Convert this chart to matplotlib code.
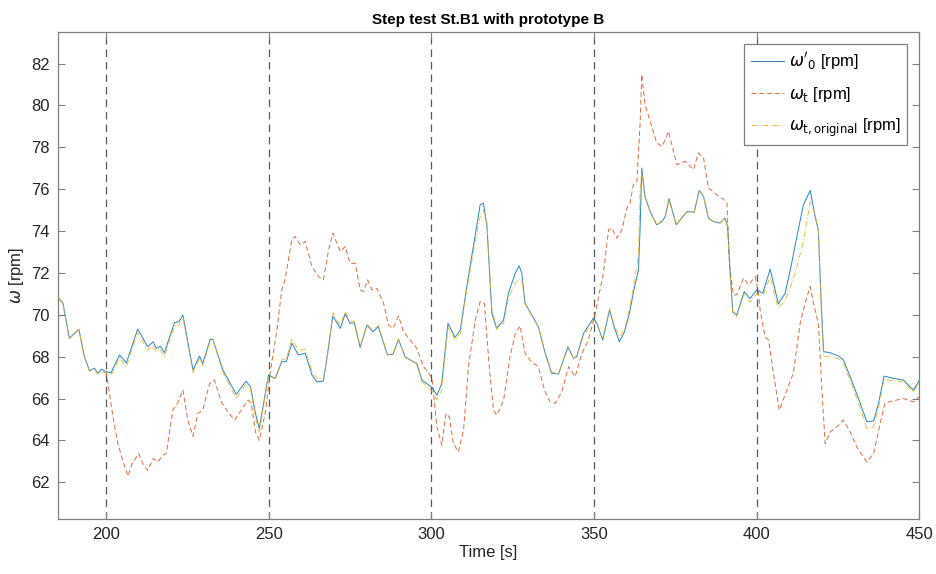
import numpy as np
import matplotlib
matplotlib.use("Agg")
import matplotlib.pyplot as plt

# time base shared by omega'_0 and omega_t,original [s]
t_w0 = [185.1, 186.7, 188.7, 191.6, 193.3, 194.9, 196.4, 197.4, 198.5, 200.0,
        201.5, 204.1, 206.2, 209.7, 212.8, 214.4, 215.4, 216.6, 217.9, 221.0,
        222.4, 223.6, 226.7, 228.7, 229.7, 232.0, 232.8, 235.9, 240.0, 243.0,
        244.4, 245.9, 247.1, 249.9, 252.0, 254.0, 255.4, 257.1, 259.1, 261.2,
        263.3, 264.8, 266.8, 268.1, 269.7, 272.0, 273.5, 275.0, 276.3, 278.1,
        280.2, 282.0, 283.7, 286.5, 288.2, 289.9, 291.9, 293.5, 295.5, 297.1,
        300.2, 301.7, 303.2, 305.1, 307.3, 308.9, 310.9, 312.9, 315.0, 316.0,
        317.1, 318.6, 320.1, 322.2, 323.7, 325.8, 327.0, 327.8, 328.8, 330.9,
        332.9, 335.0, 337.0, 339.1, 342.0, 343.7, 344.7, 346.8, 349.8, 350.9,
        352.7, 354.8, 356.2, 357.8, 359.4, 360.9, 362.4, 363.7, 364.2, 364.7,
        365.7, 367.3, 369.3, 370.9, 371.9, 373.1, 375.3, 378.6, 380.8, 382.4,
        383.7, 385.2, 386.7, 388.8, 390.3, 391.1, 391.9, 392.7, 393.9, 396.2,
        398.0, 400.1, 401.9, 404.2, 406.7, 408.8, 410.8, 412.4, 414.4, 416.5,
        418.0, 419.0, 419.8, 420.6, 422.6, 425.2, 426.7, 428.8, 431.9, 433.9,
        436.0, 437.5, 439.2, 442.1, 445.2, 448.2, 450.0]

# omega'_0 [rpm]
w0 = [70.85, 70.56, 68.88, 69.31, 68.0, 67.33, 67.45, 67.2, 67.4, 67.28,
      67.23, 68.08, 67.7, 69.32, 68.47, 68.71, 68.4, 68.5, 68.19, 69.62,
      69.67, 69.99, 67.36, 68.03, 67.68, 68.83, 68.83, 67.36, 66.2, 66.83,
      66.56, 65.29, 64.57, 67.12, 66.96, 67.76, 67.76, 68.64, 68.08, 68.16,
      67.12, 66.8, 66.83, 68.16, 69.94, 69.35, 70.04, 69.59, 69.62, 68.44,
      69.51, 69.19, 69.43, 68.08, 68.12, 68.83, 68.0, 67.84, 67.68, 66.88,
      66.53, 66.16, 66.72, 69.59, 68.92, 69.27, 71.35, 73.26, 75.25, 75.33,
      74.22, 70.07, 69.35, 69.75, 71.03, 71.99, 72.34, 71.99, 70.55, 69.99,
      69.43, 68.16, 67.2, 67.17, 68.47, 67.92, 68.0, 69.12, 69.83, 69.59,
      68.79, 70.23, 69.43, 68.71, 69.19, 70.07, 71.27, 72.14, 74.22, 77.01,
      75.65, 74.93, 74.3, 74.45, 74.69, 75.54, 74.3, 74.93, 74.9, 75.94,
      75.65, 74.62, 74.45, 74.38, 74.62, 74.22, 71.99, 70.15, 69.99, 71.11,
      70.77, 71.2, 71.03, 72.18, 70.52, 71.03, 72.46, 73.74, 75.25, 75.94,
      74.69, 74.06, 70.87, 68.24, 68.19, 68.03, 67.84, 67.04, 65.77, 64.89,
      64.93, 65.77, 67.07, 66.96, 66.88, 66.4, 66.85]

# omega_t,original [rpm]
wt_orig = [70.85, 70.5, 68.85, 69.3, 67.95, 67.3, 67.4, 67.15, 67.3, 67.2,
           67.1, 67.95, 67.5, 69.15, 68.3, 68.55, 68.25, 68.35, 68.0, 69.45,
           69.5, 69.85, 67.25, 67.9, 67.55, 68.75, 68.8, 67.25, 66.0, 66.7,
           66.45, 65.1, 64.4, 67.1, 66.95, 67.85, 67.9, 68.85, 68.3, 68.35,
           67.3, 66.95, 66.98, 68.1, 70.1, 69.5, 70.15, 69.7, 69.7, 68.5,
           69.55, 69.25, 69.5, 68.1, 68.15, 68.85, 67.95, 67.85, 67.65, 66.8,
           66.35, 65.95, 66.4, 69.4, 68.8, 69.1, 71.2, 73.0, 74.7, 75.0,
           74.4, 70.3, 69.3, 69.6, 70.8, 71.5, 71.7, 71.65, 70.6, 69.95,
           69.45, 68.2, 67.25, 67.2, 68.4, 67.95, 68.0, 69.0, 69.75, 69.5,
           68.9, 70.3, 69.5, 68.95, 69.3, 70.3, 71.55, 72.9, 76.0, 76.85,
           75.6, 74.9, 74.3, 74.5, 74.7, 75.45, 74.3, 74.9, 74.9, 75.9,
           75.65, 74.6, 74.45, 74.4, 74.6, 74.2, 71.9, 70.0, 69.9, 71.0,
           70.6, 71.0, 70.9, 71.8, 70.3, 70.7, 71.5, 72.3, 73.5, 75.4,
           74.8, 74.0, 70.6, 68.0, 68.0, 67.9, 67.7, 66.85, 65.55, 64.55,
           64.65, 65.55, 66.9, 66.85, 66.8, 66.3, 66.75]

# omega_t [rpm], starts with the first step at 200 s
t_wt = [200.0, 202.1, 203.6, 205.1, 206.7, 208.0, 210.0, 211.5, 212.8, 214.5,
        215.9, 217.4, 218.5, 220.5, 222.0, 223.6, 225.1, 226.7, 228.2, 229.7,
        231.8, 233.3, 235.4, 237.4, 239.5, 241.5, 243.6, 244.6, 245.9, 247.1,
        248.9, 250.4, 252.5, 254.0, 255.0, 257.1, 258.1, 259.7, 261.2, 263.3,
        265.3, 266.8, 268.4, 269.7, 272.0, 273.5, 275.0, 276.6, 278.1, 279.1,
        280.4, 281.7, 283.2, 285.3, 286.8, 288.2, 289.9, 291.4, 293.5, 295.5,
        297.6, 299.6, 300.2, 301.7, 303.2, 304.5, 305.5, 306.8, 308.3, 309.9,
        311.4, 313.5, 315.0, 316.3, 317.8, 319.1, 320.1, 322.2, 324.2, 325.8,
        327.3, 328.8, 330.7, 332.9, 334.8, 336.5, 338.1, 340.1, 342.2, 344.2,
        346.3, 348.3, 350.4, 352.9, 354.5, 355.5, 357.0, 358.6, 360.1, 361.1,
        362.1, 363.2, 364.2, 364.7, 365.7, 367.3, 369.3, 370.9, 371.9, 372.9,
        375.5, 378.0, 380.6, 382.1, 383.7, 385.2, 386.7, 388.3, 389.8, 390.9,
        391.7, 392.9, 393.9, 396.0, 397.5, 399.6, 400.6, 401.1, 402.6, 403.7,
        405.2, 407.0, 409.3, 411.3, 413.4, 414.9, 416.5, 417.5, 419.0, 420.1,
        421.1, 422.6, 424.7, 426.7, 428.8, 430.8, 433.9, 436.0, 438.0, 439.5,
        442.1, 445.2, 448.2, 450.0]
wt = [67.3, 65.12, 63.85, 63.05, 62.29, 62.89, 63.37, 62.81, 62.57, 63.13,
      62.97, 63.29, 63.37, 65.44, 65.79, 66.4, 64.97, 64.2, 65.29, 65.44,
      66.72, 66.88, 65.84, 65.36, 64.97, 65.44, 65.92, 65.79, 64.4, 64.0,
      65.29, 67.2, 69.27, 71.19, 71.67, 73.58, 73.74, 73.34, 73.5, 72.3,
      71.82, 71.67, 73.1, 73.9, 73.02, 73.26, 72.46, 72.46, 71.19, 71.11,
      71.67, 71.19, 71.27, 70.55, 69.51, 69.35, 69.94, 69.19, 68.79, 68.4,
      67.52, 67.12, 66.96, 64.65, 63.77, 65.29, 65.12, 63.85, 63.45, 64.49,
      67.52, 69.75, 70.63, 70.55, 67.52, 65.44, 65.2, 65.92, 68.0, 69.12,
      69.47, 68.16, 67.76, 67.52, 66.4, 65.84, 65.77, 66.32, 67.52, 67.04,
      68.16, 68.79, 70.07, 71.99, 74.06, 74.14, 73.66, 74.06, 75.1, 75.33,
      76.21, 76.37, 79.16, 81.47, 80.04, 79.24, 78.21, 78.04, 78.36, 78.76,
      77.17, 77.33, 76.93, 77.73, 77.49, 76.05, 75.89, 75.65, 75.53, 75.33,
      72.3, 70.95, 70.95, 71.75, 71.43, 71.82, 71.03, 70.23, 68.95, 68.79,
      67.2, 65.44, 66.4, 67.2, 69.59, 70.55, 71.35, 70.55, 69.59, 66.4,
      63.85, 64.4, 64.65, 64.97, 64.4, 63.69, 62.97, 63.37, 64.81, 65.79,
      65.89, 66.0, 65.84, 66.08]

# step instants [s]
steps = [200, 250, 300, 350, 400]

plt.rcParams['font.family'] = ['Liberation Sans', 'DejaVu Sans']
plt.rcParams['mathtext.fontset'] = 'dejavusans'

fig = plt.figure(figsize=(9.36, 5.74), dpi=100)
ax = fig.add_axes([0.062, 0.096, 0.920, 0.848])

for s in steps:
    ax.axvline(s, color='#5a5a5a', lw=0.9, ls=(0, (6, 4)), zorder=1)

ax.plot(t_w0, w0, color='#0072BD', lw=0.7, alpha=0.85, label=r"$\omega'_0$ [rpm]", zorder=3)
ax.plot(t_wt, wt, color='#D95319', lw=0.7, ls=(0, (5, 3)), alpha=0.85,
        label=r"$\omega_\mathrm{t}$ [rpm]", zorder=2)
ax.plot(t_w0, wt_orig, color='#EDB120', lw=0.7, ls=(0, (6, 2, 1, 2)), alpha=0.85,
        label=r"$\omega_\mathrm{t,original}$ [rpm]", zorder=4)

ax.set_xlim(185.2, 450)
ax.set_ylim(60.25, 83.5)
ax.set_xticks(np.arange(200, 451, 50))
ax.set_yticks(np.arange(62, 83, 2))

ax.tick_params(direction='in', top=True, right=True, length=5, width=0.8,
               color='#808080', labelsize=12, labelcolor='#262626', pad=6)
for sp in ax.spines.values():
    sp.set_color('#808080')
    sp.set_linewidth(0.9)

ax.set_xlabel('Time [s]', fontsize=12, color='#262626', labelpad=2)
ax.set_ylabel(r'$\omega$ [rpm]', fontsize=12, color='#262626', labelpad=4)
ax.set_title('Step test St.B1 with prototype B', fontsize=11, fontweight='bold',
             color='#000000', pad=6)

leg = ax.legend(loc='upper right', fontsize=12, frameon=True, fancybox=False,
                edgecolor='#808080', framealpha=1, borderpad=0.4,
                handlelength=2.0, handletextpad=0.3, labelspacing=0.75,
                borderaxespad=0.7)
leg.get_frame().set_linewidth(0.9)

fig.savefig('out.png', dpi=100)
